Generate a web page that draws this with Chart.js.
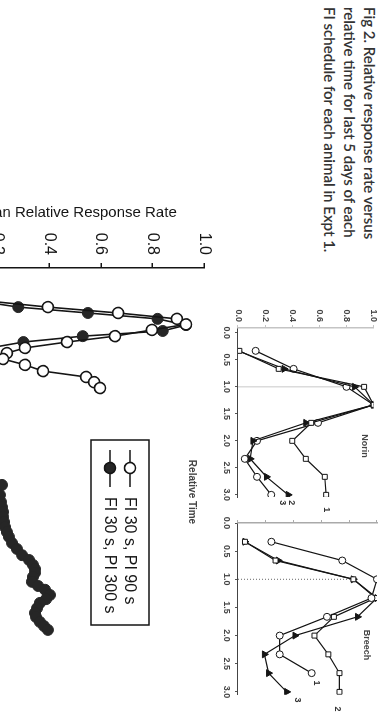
<!DOCTYPE html>
<html>
<head>
<meta charset="utf-8">
<script src="https://cdn.jsdelivr.net/npm/chart.js@4.4.1/dist/chart.umd.min.js"></script>
<style>
  html, body { margin: 0; padding: 0; background: #fff; width: 382px; height: 719px; overflow: hidden; }
  /* the scanned page lies on its side: build it upright, then turn it */
  #page { position: absolute; left: 0; top: 0; width: 719px; height: 382px; overflow: hidden; background: #fff;
          transform-origin: 0 0; transform: translate(382px, 0) rotate(90deg); }
  #page canvas { position: absolute; }
  .caption { position: absolute; left: 7px; top: 2px; font: 600 15px Lato, "Open Sans", sans-serif; line-height: 20px;
             color: #333; white-space: pre; }
  .lbl { position: absolute; transform: translate(-50%, -50%); white-space: pre; color: #444;
         font-family: "Liberation Sans", Arial, sans-serif; font-weight: bold; }
</style>
</head>
<body>
<div id="page">
  <div class="caption">Fig 2. Relative response rate versus
relative time for last 5 days of each
FI schedule for each animal in Expt 1.</div>
  <canvas id="norinChart" width="230" height="175" style="left:290px; top:0px;"></canvas>
  <canvas id="breechChart" width="209" height="175" style="left:510px; top:0px;"></canvas>
  <canvas id="mainChart" width="569" height="300" style="left:150px; top:160px;"></canvas>
  <div class="lbl" style="left:446px; top:17px; font-size:9px;">Norin</div>
  <div class="lbl" style="left:645px; top:15px; font-size:9px;">Breech</div>
  <div class="lbl" style="left:492px; top:189px; font-size:10px;">Relative Time</div>
</div>

<script>
// Оси малых панелей
const timeTicks = [0, 0.5, 1, 1.5, 2, 2.5, 3];
const rateTicks = [0, 0.2, 0.4, 0.6, 0.8, 1.0];

// Отдельные животные: время в долях FI
const panelTimes = [1/3, 2/3, 1, 4/3, 5/3, 2, 7/3, 8/3, 3];
const norin1 = [0.01, 0.30, 0.93, 1.00, 0.54, 0.40, 0.50, 0.64, 0.65];
const norin2 = [0.00, 0.34, 0.86, 1.00, 0.50, 0.11, 0.09, 0.21, 0.37];
const norin3 = [0.13, 0.41, 0.80, 1.00, 0.59, 0.14, 0.05, 0.14, 0.245];
const breech1 = [0.24, 0.75, 1.00, 0.96, 0.64, 0.30, 0.30, 0.53];
const breech2 = [0.05, 0.27, 0.83, 0.99, 0.69, 0.55, 0.65, 0.73, 0.73];
const breech3 = [0.05, 0.29, 0.83, 1.00, 0.86, 0.41, 0.19, 0.22, 0.35];

// Средние по группе (большая панель)
const pi90Time = [0.13, 0.29, 0.46, 0.63, 0.80, 0.97, 1.13, 1.29, 1.47, 1.64, 1.81, 1.96, 2.13, 2.30, 2.48, 2.65, 2.80, 2.97];
const pi90Rate = [0.02, 0.06, 0.17, 0.395, 0.667, 0.895, 0.93, 0.798, 0.655, 0.469, 0.306, 0.236, 0.221, 0.306, 0.376, 0.543, 0.574, 0.597];
const pi300Time = [0.13, 0.29, 0.46, 0.63, 0.80, 0.97, 1.15, 1.32, 1.47, 1.64, 1.81, 1.98, 2.5, 3.0, 3.5, 4.0, 4.5, 5.0, 5.4, 5.6,
  5.77, 6.06, 6.26, 6.41, 6.55, 6.69, 6.84, 6.99, 7.13, 7.27, 7.45, 7.62, 7.80, 7.94, 8.08, 8.20, 8.31, 8.43, 8.57, 8.69,
  8.80, 8.95, 9.07, 9.18, 9.33, 9.47, 9.59, 9.73, 9.85, 9.96];
const pi300Rate = [0.02, 0.05, 0.13, 0.28, 0.55, 0.82, 0.93, 0.84, 0.53, 0.30, 0.17, 0.11, 0.07, 0.05, 0.05, 0.07, 0.09, 0.12, 0.16, 0.18,
  0.217, 0.209, 0.213, 0.217, 0.221, 0.221, 0.225, 0.229, 0.236, 0.244, 0.256, 0.275, 0.295, 0.322, 0.337, 0.345, 0.345, 0.337, 0.333, 0.357,
  0.384, 0.403, 0.388, 0.364, 0.353, 0.345, 0.349, 0.364, 0.380, 0.395];

Chart.defaults.font.family = '"Liberation Sans", Arial, sans-serif';
Chart.defaults.color = '#111';

const ink = '#151515';
const pairs = (xs, ys) => ys.map((y, i) => ({ x: xs[i], y: y }));

// Номера кривых у последней точки
const endLabels = {
  id: 'endLabels',
  afterDatasetsDraw(chart) {
    const ctx = chart.ctx;
    chart.data.datasets.forEach((ds, i) => {
      if (!ds.endLabel) return;
      const pts = chart.getDatasetMeta(i).data;
      const last = pts[pts.length - 1];
      ctx.save();
      ctx.font = 'bold 9px "Liberation Sans", Arial, sans-serif';
      ctx.fillStyle = '#333';
      ctx.textAlign = 'center';
      ctx.textBaseline = 'middle';
      ctx.fillText(ds.endLabel, last.x + ds.labelDx, last.y + ds.labelDy);
      ctx.restore();
    });
  }
};

// Легенда в рамке внутри большой панели
const boxLegend = {
  id: 'boxLegend',
  afterDraw(chart, args, o) {
    const ctx = chart.ctx;
    ctx.save();
    ctx.strokeStyle = ink;
    ctx.lineWidth = 1.5;
    ctx.strokeRect(o.x, o.y, o.w, o.h);
    chart.data.datasets.forEach((ds, i) => {
      const cy = o.y + o.first + i * o.gap;
      ctx.beginPath();
      ctx.moveTo(o.x + 10, cy);
      ctx.lineTo(o.x + 47, cy);
      ctx.lineWidth = 1.6;
      ctx.stroke();
      ctx.beginPath();
      ctx.arc(o.x + 28, cy, 5.5, 0, Math.PI * 2);
      ctx.fillStyle = ds.pointBackgroundColor;
      ctx.fill();
      ctx.stroke();
      ctx.fillStyle = ink;
      ctx.font = '16px "Liberation Sans", Arial, sans-serif';
      ctx.textBaseline = 'middle';
      ctx.fillText(ds.label, o.x + 57, cy + 1);
    });
    ctx.restore();
  }
};

function seriesStyle(style) {
  const open = style !== 'triangle';
  return {
    borderColor: ink, borderWidth: 1.2,
    pointStyle: style, pointRadius: style === 'triangle' ? 4 : 3.5,
    pointBackgroundColor: open ? '#fff' : ink, pointBorderColor: ink, pointBorderWidth: 1
  };
}

function refLine(top, color, dash) {
  return { data: [{ x: 1, y: 0 }, { x: 1, y: top }], borderColor: color, borderWidth: 1,
           borderDash: dash, pointRadius: 0 };
}

function panel(id, series, xMin, xMax, pad, yWidth, showY, axisColor, axisDash, ref) {
  new Chart(document.getElementById(id), {
    type: 'line',
    data: { datasets: series.concat([ref]) },
    options: {
      responsive: false, animation: false,
      layout: { padding: pad },
      plugins: { legend: { display: false }, tooltip: { enabled: false } },
      scales: {
        x: {
          type: 'linear', min: xMin, max: xMax,
          afterBuildTicks: s => { s.ticks = timeTicks.map(v => ({ value: v })); },
          afterFit: s => { s.height = 31; },
          ticks: { callback: v => v.toFixed(1), font: { size: 9, weight: 'bold' }, color: '#444', padding: 3 },
          grid: { drawOnChartArea: false, tickLength: 3, color: '#555' },
          border: { color: '#444', width: 1, dash: [1, 2] }
        },
        y: {
          min: 0, max: 1,
          afterBuildTicks: s => { s.ticks = rateTicks.map(v => ({ value: v })); },
          afterFit: s => { s.width = yWidth; },
          ticks: { display: showY, callback: v => v.toFixed(1), font: { size: 9, weight: 'bold' }, color: '#444', padding: 3 },
          grid: { drawOnChartArea: false, tickLength: 3, color: axisColor },
          border: { color: axisColor, width: 1.5, dash: axisDash }
        }
      }
    },
    plugins: [endLabels]
  });
}

panel('norinChart', [
  Object.assign({ data: pairs(panelTimes, norin1), endLabel: '1', labelDx: 15, labelDy: 0 }, seriesStyle('rect')),
  Object.assign({ data: pairs(panelTimes, norin2), endLabel: '2', labelDx: 8, labelDy: -3 }, seriesStyle('triangle')),
  Object.assign({ data: pairs(panelTimes, norin3), endLabel: '3', labelDx: 8, labelDy: -11 }, seriesStyle('circle'))
], -0.09, 3.04, { left: 0, top: 5, right: 23, bottom: 0 }, 38, true, '#c4c4c4', [], refLine(0.93, '#c8c8c8', []));

panel('breechChart', [
  Object.assign({ data: pairs(panelTimes, breech1), endLabel: '1', labelDx: 10, labelDy: -5 }, seriesStyle('circle')),
  Object.assign({ data: pairs(panelTimes, breech2), endLabel: '2', labelDx: 17, labelDy: 2 }, seriesStyle('rect')),
  Object.assign({ data: pairs(panelTimes, breech3), endLabel: '3', labelDx: 8, labelDy: -11 }, seriesStyle('triangle'))
], 0, 3.05, { left: 0, top: 5, right: 24.3, bottom: 0 }, 13, false, '#aaa', [3, 2], refLine(0.84, '#666', [1, 2]));

// Большая панель: средние
new Chart(document.getElementById('mainChart'), {
  type: 'line',
  data: {
    datasets: [
      { label: 'FI 30 s, PI 90 s', data: pairs(pi90Time, pi90Rate), borderColor: ink, borderWidth: 1.6,
        pointStyle: 'circle', pointRadius: 5.5, pointBackgroundColor: '#fff', pointBorderColor: ink, pointBorderWidth: 1.6 },
      { label: 'FI 30 s, PI 300 s', data: pairs(pi300Time, pi300Rate), borderColor: ink, borderWidth: 1.6,
        pointStyle: 'circle', pointRadius: 5.5, pointBackgroundColor: '#262626', pointBorderColor: '#262626', pointBorderWidth: 1 }
    ]
  },
  options: {
    responsive: false, animation: false,
    layout: { padding: { left: 54, top: 18, right: 18.5, bottom: 24 } },
    plugins: {
      legend: { display: false }, tooltip: { enabled: false },
      boxLegend: { x: 290, y: 73, w: 185, h: 58, first: 19, gap: 20 }
    },
    scales: {
      x: { type: 'linear', display: false, min: -0.5, max: 12 },
      y: {
        min: 0, max: 1,
        afterBuildTicks: s => { s.ticks = rateTicks.map(v => ({ value: v })); },
        afterFit: s => { s.width = 64; },
        ticks: { callback: v => v.toFixed(1), font: { size: 16 }, color: ink, padding: 8 },
        grid: { drawOnChartArea: false, tickLength: 5, color: ink, lineWidth: 1.5 },
        border: { color: ink, width: 1.5 },
        title: { display: true, text: 'Mean Relative Response Rate', font: { size: 15 }, color: ink, padding: 0 }
      }
    }
  },
  plugins: [boxLegend]
});
</script>
</body>
</html>
